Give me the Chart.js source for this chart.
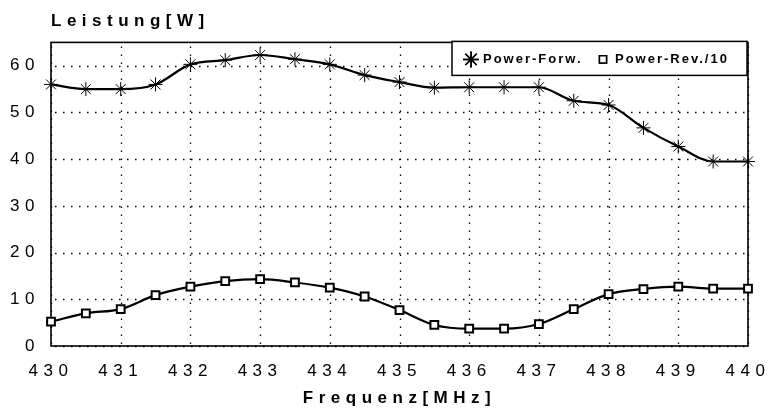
<!DOCTYPE html>
<html>
<head>
<meta charset="utf-8">
<script src="https://cdn.jsdelivr.net/npm/chart.js@4/dist/chart.umd.min.js"></script>
<style>
  body { margin: 0; background: #fff; }
  canvas { display: block; }
</style>
</head>
<body>
<canvas id="myChart" width="771" height="409"></canvas>
<script>
const freqs = [430, 430.5, 431, 431.5, 432, 432.5, 433, 433.5, 434, 434.5, 435,
  435.5, 436, 436.5, 437, 437.5, 438, 438.5, 439, 439.5, 440];
const powerForw = [56, 55, 55, 56, 60.3, 61.2, 62.3, 61.4, 60.3, 58, 56.5,
  55.3, 55.4, 55.4, 55.4, 52.5, 51.6, 46.7, 42.7, 39.5, 39.5];
const powerRev10 = [5.2, 7.0, 7.9, 10.9, 12.7, 13.9, 14.3, 13.6, 12.5, 10.6, 7.7,
  4.5, 3.7, 3.7, 4.7, 7.9, 11.1, 12.2, 12.7, 12.3, 12.3];
const xTicks = [430, 431, 432, 433, 434, 435, 436, 437, 438, 439, 440];
const yTicks = [0, 10, 20, 30, 40, 50, 60];
const seriesLabels = ["Power-Forw.", "Power-Rev./10"];

const FONT = '"Liberation Sans", Arial, Helvetica, sans-serif';

// wide letter spacing for axis texts, dotted grid and frame round the plot area
const spacing = {
  id: "spacing",
  beforeDraw(chart) {
    chart.ctx.letterSpacing = "5.5px";
  },
  beforeDatasetsDraw(chart) {
    const ctx = chart.ctx;
    ctx.letterSpacing = "0px";
    const a = chart.chartArea;
    const xs = chart.scales.x, ys = chart.scales.y;
    ctx.save();
    ctx.strokeStyle = "#000";
    ctx.lineWidth = 1.3;
    ctx.setLineDash([1.5, 6.5]);
    ctx.beginPath();
    xTicks.forEach((v) => {
      const px = Math.round(xs.getPixelForValue(v)) + 0.5;
      ctx.moveTo(px, a.top + 4);
      ctx.lineTo(px, a.bottom);
    });
    yTicks.forEach((v) => {
      const py = Math.round(ys.getPixelForValue(v)) + 0.5;
      ctx.moveTo(a.left + 4, py);
      ctx.lineTo(a.right, py);
    });
    ctx.stroke();
    ctx.setLineDash([]);
    ctx.lineWidth = 1.6;
    ctx.strokeRect(a.left, a.top, a.right - a.left, a.bottom - a.top);
    ctx.restore();
  },
};

// legend box inside the plot, top right
const legendBox = {
  id: "legendBox",
  afterDraw(chart) {
    const ctx = chart.ctx;
    const a = chart.chartArea;
    const bx = a.right - 296, by = a.top - 1, bw = 295, bh = 34;
    const cy = by + bh / 2 + 1;
    ctx.save();
    ctx.fillStyle = "#fff";
    ctx.strokeStyle = "#000";
    ctx.lineWidth = 1.5;
    ctx.fillRect(bx, by, bw, bh);
    ctx.strokeRect(bx, by, bw, bh);
    ctx.font = "bold 13px " + FONT;
    ctx.letterSpacing = "2px";
    ctx.textBaseline = "middle";
    ctx.fillStyle = "#000";
    const offs = [19, 151];
    chart.data.datasets.forEach((ds, i) => {
      const mx = bx + offs[i];
      Chart.helpers.drawPoint(ctx, {
        pointStyle: ds.pointStyle,
        radius: ds.pointStyle === "star" ? 8 : 5,
        rotation: 0,
        borderWidth: 1,
      }, mx, cy);
      if (ds.pointStyle === "rect") {
        ctx.fillStyle = "#fff";
        ctx.fill();
        ctx.fillStyle = "#000";
      }
      ctx.stroke();
      ctx.fillText(ds.label, mx + 12, cy);
    });
    ctx.restore();
  },
};

const ctx = document.getElementById("myChart").getContext("2d");
const myChart = new Chart(ctx, {
  type: "line",
  data: {
    datasets: [
      {
        label: seriesLabels[0],
        data: freqs.map((f, i) => ({ x: f, y: powerForw[i] })),
        borderColor: "#000",
        backgroundColor: "#000",
        borderWidth: 2.2,
        pointStyle: "star",
        pointRadius: 7,
        pointBorderWidth: 1,
        cubicInterpolationMode: "monotone",
        clip: false,
      },
      {
        label: seriesLabels[1],
        data: freqs.map((f, i) => ({ x: f, y: powerRev10[i] })),
        borderColor: "#000",
        backgroundColor: "#fff",
        borderWidth: 2.2,
        pointStyle: "rect",
        pointRadius: 5.5,
        pointBorderWidth: 2,
        cubicInterpolationMode: "monotone",
        clip: false,
      },
    ],
  },
  options: {
    responsive: false,
    animation: false,
    layout: { padding: { left: 0, right: 23, top: 0, bottom: 0 } },
    plugins: {
      legend: { display: false },
      tooltip: { enabled: false },
      title: {
        display: true,
        text: "Leistung[W]",
        align: "start",
        fullSize: false,
        color: "#000",
        font: { family: FONT, size: 17, weight: "bold" },
        padding: { top: 11, bottom: 11 },
      },
    },
    scales: {
      x: {
        type: "linear",
        min: 430,
        max: 440,
        afterBuildTicks: (s) => { s.ticks = xTicks.map((v) => ({ value: v })); },
        afterFit: (s) => { s.height = 63; },
        grid: { display: false },
        border: { display: false },
        ticks: {
          color: "#000",
          padding: 7,
          maxRotation: 0,
          font: { family: FONT, size: 17 },
        },
        title: {
          display: true,
          text: "Frequenz[MHz]",
          color: "#000",
          font: { family: FONT, size: 17, weight: "bold" },
          padding: { top: 0, bottom: 0 },
        },
      },
      y: {
        min: 0,
        max: 65,
        afterBuildTicks: (s) => { s.ticks = yTicks.map((v) => ({ value: v })); },
        afterFit: (s) => { s.width = 51; },
        grid: { display: false },
        border: { display: false },
        ticks: {
          color: "#000",
          padding: 3,
          font: { family: FONT, size: 17 },
        },
      },
    },
  },
  plugins: [spacing, legendBox],
});
</script>
</body>
</html>
